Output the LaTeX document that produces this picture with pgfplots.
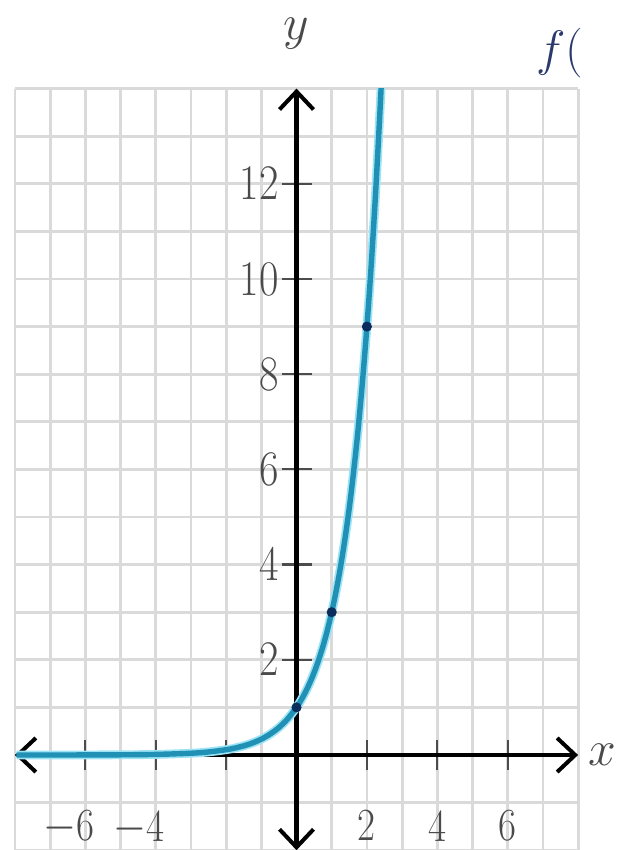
\documentclass[border=0pt]{standalone}
\usepackage{pgfplots}
\pgfplotsset{compat=1.18}
\usetikzlibrary{arrows.meta}
\definecolor{curvec}{HTML}{2090B5}
\definecolor{halo}{HTML}{9BE3F5}
\definecolor{dotc}{HTML}{0B2D5C}
\definecolor{lab}{HTML}{4A4A4A}
\definecolor{gridc}{HTML}{DADADA}
\definecolor{hand}{HTML}{2B3A6B}
\begin{document}
\begin{tikzpicture}
\useasboundingbox (0,0) rectangle (312pt,425pt);
\begin{axis}[
  at={(148.25pt,47.5pt)}, anchor=origin,
  scale only axis, x=17.6pt, y=23.8pt,
  xmin=-8, xmax=8, ymin=-2, ymax=14,
  axis lines=middle,
  axis line style={line width=2.2pt, black, {Straight Barb[length=9pt,width=17pt,line width=2pt]}-{Straight Barb[length=9pt,width=17pt,line width=2pt]}},
  xtick={-6,-4,-2,2,4,6},
  xticklabels={\llap{$-$}6,\llap{$-$}4,,2,4,6},
  ytick={2,4,6,8,10,12},
  minor xtick={-8,-7,...,8},
  minor ytick={-2,-1,...,14},
  grid=both,
  major grid style={gridc, line width=1.4pt},
  minor grid style={gridc, line width=1.4pt},
  tick align=center,
  major tick length=15pt,
  minor tick length=0pt,
  tick style={line width=1.1pt, black!70},
  xticklabel style={font=\fontsize{23}{25}\selectfont, text=lab, anchor=north, inner sep=0pt, xscale=0.85, yshift=-20pt},
  yticklabel style={font=\fontsize{23}{25}\selectfont, text=lab, anchor=east, inner sep=0pt, xscale=0.85, xshift=-1.5pt},
  xlabel={$x$}, ylabel={$y$},
  xlabel style={at={(axis description cs:1,0.125)}, anchor=west, xshift=5pt, inner sep=0pt, font=\fontsize{23}{25}\selectfont, text=lab},
  ylabel style={at={(axis description cs:0.5,1)}, anchor=south, yshift=16pt, font=\fontsize{24}{26}\selectfont, text=lab},
]
\addplot[halo, line width=4.4pt, smooth] coordinates {
(-7.95,0.000163) (-7,0.000457) (-6,0.00137) (-5,0.00412) (-4,0.0123) (-3,0.0370)
(-2.5,0.0642) (-2,0.111) (-1.75,0.146) (-1.5,0.192) (-1.25,0.253) (-1,0.333)
(-0.75,0.439) (-0.5,0.577) (-0.25,0.760) (0,1) (0.125,1.147) (0.25,1.316) (0.375,1.510)
(0.5,1.732) (0.625,1.987) (0.75,2.280) (0.875,2.613) (1,3) (1.125,3.442) (1.25,3.948)
(1.375,4.532) (1.5,5.196) (1.625,5.966) (1.75,6.839) (1.875,7.854) (2,9) (2.125,10.32)
(2.25,11.845) (2.375,13.58) (2.41,14.12)
};
\addplot[curvec, line width=2.7pt, smooth] coordinates {
(-7.95,0.000163) (-7,0.000457) (-6,0.00137) (-5,0.00412) (-4,0.0123) (-3,0.0370)
(-2.5,0.0642) (-2,0.111) (-1.75,0.146) (-1.5,0.192) (-1.25,0.253) (-1,0.333)
(-0.75,0.439) (-0.5,0.577) (-0.25,0.760) (0,1) (0.125,1.147) (0.25,1.316) (0.375,1.510)
(0.5,1.732) (0.625,1.987) (0.75,2.280) (0.875,2.613) (1,3) (1.125,3.442) (1.25,3.948)
(1.375,4.532) (1.5,5.196) (1.625,5.966) (1.75,6.839) (1.875,7.854) (2,9) (2.125,10.32)
(2.25,11.845) (2.375,13.58) (2.41,14.12)
};
\addplot[only marks, mark=*, mark size=2.3pt, dotc] coordinates {(0,1) (1,3) (2,9)};
\end{axis}
\node[anchor=base west, text=hand, font=\fontsize{32}{34}\selectfont, inner sep=0pt] at (268pt,392pt) {$f($};
\end{tikzpicture}
\end{document}
